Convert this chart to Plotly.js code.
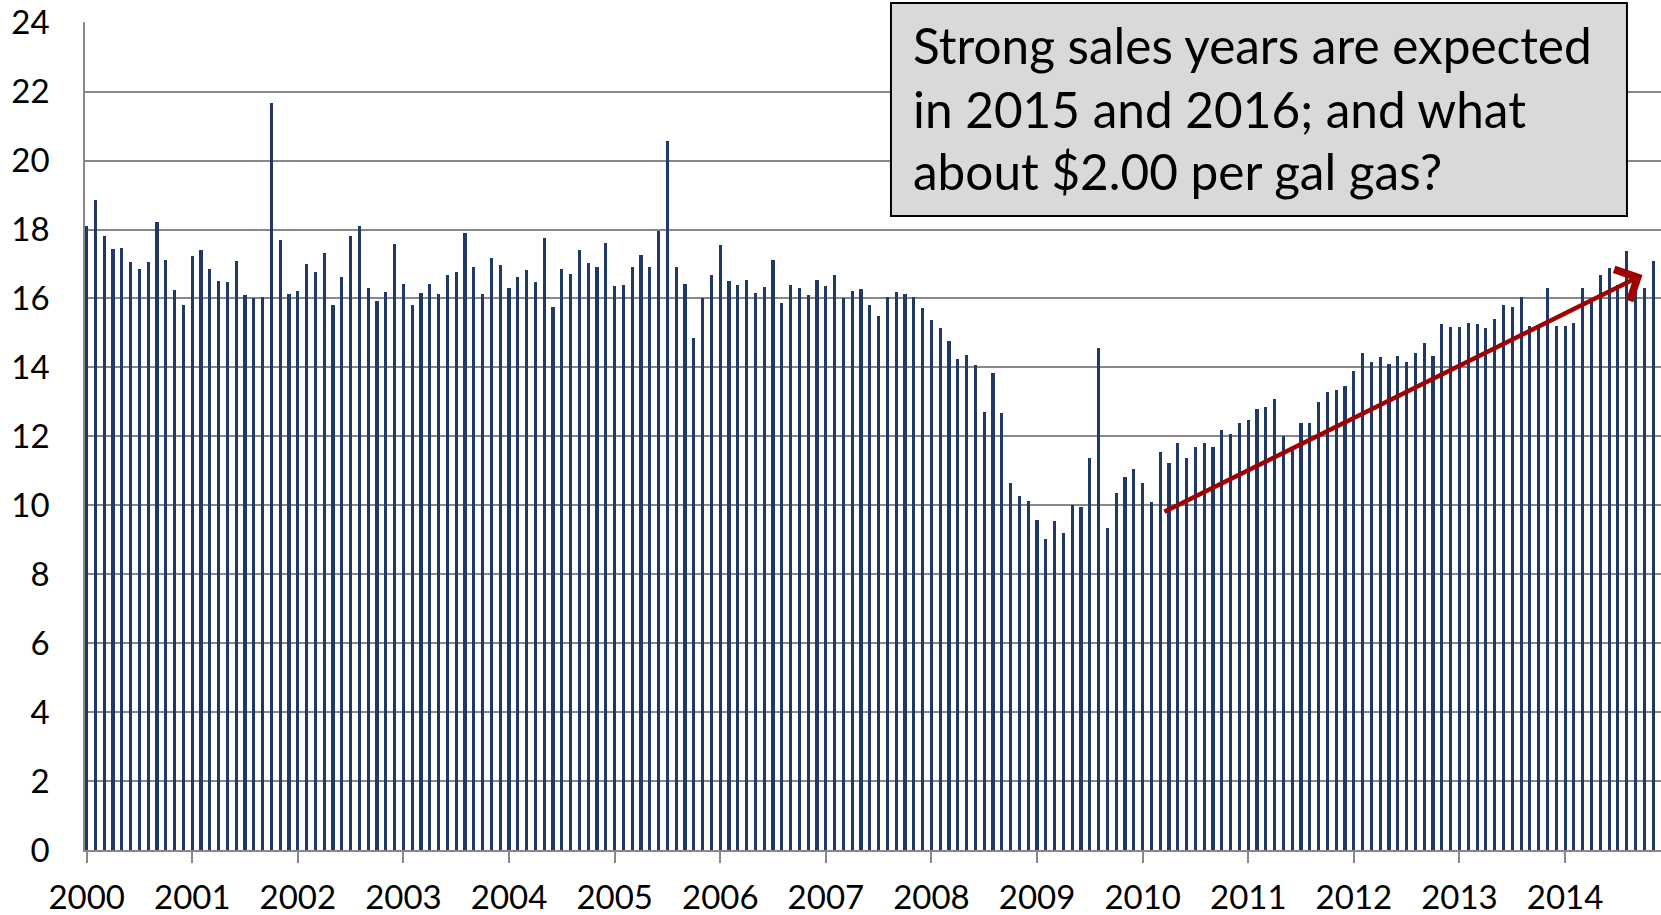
<!DOCTYPE html>
<html>
<head>
<meta charset="utf-8">
<script src="https://cdn.plot.ly/plotly-3.0.1.min.js"></script>
<style>
  html, body { margin: 0; padding: 0; background: #ffffff; }
  #chart { width: 1661px; height: 915px; }
</style>
</head>
<body>
<div id="chart"></div>
<script>
// Monthly light vehicle sales (SAAR, millions), Jan 2000 - Nov 2014
const sales2000 = [18.11, 18.86, 17.81, 17.43, 17.45, 17.06, 16.85, 17.07, 18.23, 17.11, 16.25, 15.81];
const sales2001 = [17.24, 17.42, 16.86, 16.52, 16.49, 17.09, 16.10, 16.01, 16.05, 21.68, 17.71, 16.13];
const sales2002 = [16.21, 16.99, 16.77, 17.33, 15.82, 16.61, 17.81, 18.09, 16.31, 15.92, 16.18, 17.58];
const sales2003 = [16.41, 15.80, 16.16, 16.42, 16.13, 16.67, 16.76, 17.91, 16.92, 16.12, 17.18, 16.98];
const sales2004 = [16.29, 16.62, 16.82, 16.48, 17.74, 15.75, 16.86, 16.70, 17.42, 17.04, 16.90, 17.60];
const sales2005 = [16.36, 16.38, 16.91, 17.26, 16.91, 17.96, 20.58, 16.91, 16.41, 14.84, 16.01, 16.67];
const sales2006 = [17.55, 16.50, 16.38, 16.55, 16.15, 16.34, 17.11, 15.88, 16.40, 16.31, 16.10, 16.55];
const sales2007 = [16.37, 16.69, 16.01, 16.21, 16.28, 15.81, 15.49, 16.03, 16.18, 16.12, 16.03, 15.71];
const sales2008 = [15.38, 15.15, 14.78, 14.25, 14.36, 14.06, 12.71, 13.84, 12.69, 10.65, 10.26, 10.13];
const sales2009 = [9.57, 9.02, 9.54, 9.20, 10.00, 9.96, 11.36, 14.56, 9.34, 10.36, 10.82, 11.06];
const sales2010 = [10.65, 10.10, 11.55, 11.23, 11.81, 11.38, 11.70, 11.80, 11.70, 12.19, 12.06, 12.38];
const sales2011 = [12.48, 12.80, 12.85, 13.07, 12.00, 11.60, 12.40, 12.40, 13.00, 13.28, 13.34, 13.45];
const sales2012 = [13.89, 14.42, 14.16, 14.29, 14.10, 14.32, 14.16, 14.42, 14.70, 14.32, 15.25, 15.17];
const sales2013 = [15.17, 15.28, 15.25, 15.14, 15.41, 15.81, 15.74, 16.03, 15.21, 15.20, 16.30, 15.21];
const sales2014 = [15.21, 15.28, 16.29, 16.00, 16.67, 16.88, 16.40, 17.39, 16.29, 16.29, 17.09];

const yearLabels = ["2000","2001","2002","2003","2004","2005","2006","2007","2008","2009","2010","2011","2012","2013","2014"];

const annotationLines = [
  "Strong sales years are expected",
  "in 2015 and 2016; and what",
  "about $2.00 per gal gas?"
];

// Trend arrow: start (month index, value) and end (month index, value)
const arrowStart = [122.3, 9.79];
const arrowEnd = [176.8, 16.68];

const allYears = [sales2000, sales2001, sales2002, sales2003, sales2004, sales2005, sales2006,
  sales2007, sales2008, sales2009, sales2010, sales2011, sales2012, sales2013, sales2014];

const values = [];
const monthIdx = [];
const monthLabel = [];
allYears.forEach((arr, yi) => {
  arr.forEach((v, mi) => {
    monthIdx.push(values.length);
    monthLabel.push(yearLabels[yi] + "-" + String(mi + 1).padStart(2, "0"));
    values.push(v);
  });
});

const tickvals = yearLabels.map((_, i) => i * 12);

const FONT = "Lato, 'Open Sans', sans-serif";

const trace = {
  type: "bar",
  x: monthIdx,
  y: values,
  customdata: monthLabel,
  hovertemplate: "%{customdata}: %{y}<extra></extra>",
  width: 0.36,
  marker: { color: "#1f3864", line: { width: 0 } }
};

const textAnnotations = annotationLines.map((t, i) => ({
  xref: "paper", yref: "paper",
  x: 0.5241, y: [0.9720, 0.8955, 0.8200][i],
  xanchor: "left", yanchor: "middle",
  text: t, showarrow: false, align: "left",
  font: { family: FONT, size: 49.5, color: "#000000" }
}));

const layout = {
  width: 1661,
  height: 915,
  margin: { l: 85, r: 0, t: 22, b: 65, pad: 0 },
  paper_bgcolor: "#ffffff",
  plot_bgcolor: "#ffffff",
  showlegend: false,
  bargap: 0,
  xaxis: {
    range: [-0.19, 178.9],
    tickmode: "array",
    tickvals: tickvals,
    ticktext: yearLabels,
    ticks: "outside",
    ticklen: 11,
    tickwidth: 1.5,
    tickcolor: "#888888",
    showline: true,
    linecolor: "#888888",
    linewidth: 1.5,
    showgrid: false,
    zeroline: false,
    ticklabelstandoff: 7,
    tickfont: { family: FONT, size: 33, color: "#000000" }
  },
  yaxis: {
    range: [0, 24.02],
    tick0: 0,
    dtick: 2,
    ticks: "",
    showline: true,
    linecolor: "#888888",
    linewidth: 1.5,
    showgrid: true,
    gridcolor: "#888888",
    gridwidth: 1.5,
    zeroline: false,
    ticklabelstandoff: 27,
    tickfont: { family: FONT, size: 33, color: "#000000" }
  },
  shapes: [{
    type: "rect",
    xref: "paper", yref: "paper",
    x0: 0.5114, x1: 0.9784, y0: 0.7657, y1: 1.0229,
    fillcolor: "#d9d9d9",
    line: { color: "#000000", width: 2 },
    layer: "above"
  }],
  annotations: textAnnotations.concat([{
    xref: "x", yref: "y", axref: "x", ayref: "y",
    x: arrowEnd[0], y: arrowEnd[1],
    ax: arrowStart[0], ay: arrowStart[1],
    text: "", showarrow: true,
    arrowhead: 4, arrowsize: 1.5, arrowwidth: 4.5,
    arrowcolor: "#a00000", standoff: 0, startstandoff: 0
  }])
};

Plotly.newPlot("chart", [trace], layout, { displayModeBar: false, responsive: false });
</script>
</body>
</html>
